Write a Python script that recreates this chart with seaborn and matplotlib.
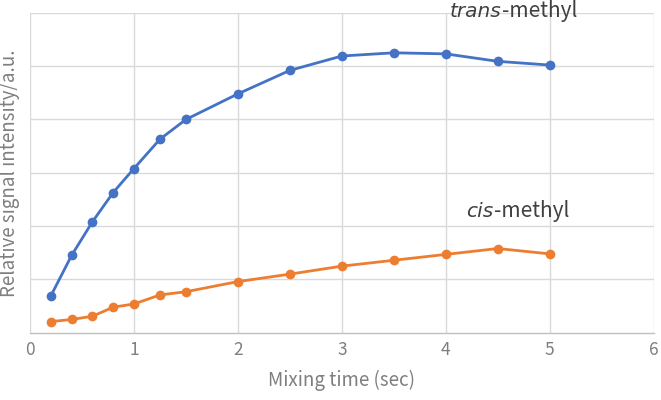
import pandas as pd
import seaborn as sns
import matplotlib.pyplot as plt

# Data (y in arbitrary units, grid step = 1)
mixing_time = [0.2, 0.4, 0.6, 0.8, 1.0, 1.25, 1.5, 2.0, 2.5, 3.0, 3.5, 4.0, 4.5, 5.0]
trans_methyl = [0.69, 1.45, 2.08, 2.63, 3.08, 3.63, 4.00, 4.48, 4.92, 5.19, 5.25, 5.23, 5.09, 5.02]
cis_methyl = [0.21, 0.25, 0.31, 0.48, 0.54, 0.71, 0.77, 0.96, 1.10, 1.25, 1.36, 1.47, 1.58, 1.48]
x_ticks = [0, 1, 2, 3, 4, 5, 6]

df = pd.DataFrame({
    'time': mixing_time * 2,
    'signal': trans_methyl + cis_methyl,
    'series': ['trans'] * len(mixing_time) + ['cis'] * len(mixing_time),
})

sns.set_theme(style="whitegrid")
plt.rcParams['font.family'] = ['Noto Sans CJK JP', 'DejaVu Sans']

grey = '#7F7F7F'
fig = plt.figure(figsize=(6.61, 4.0), dpi=100)
ax = fig.add_axes([0.0454, 0.168, 0.9435, 0.8])

sns.lineplot(data=df, x='time', y='signal', hue='series',
             palette={'trans': '#4472C4', 'cis': '#ED7D31'},
             marker='o', markersize=7, markeredgewidth=0, linewidth=2,
             legend=False, ax=ax)

ax.set_xlim(0, 6)
ax.set_ylim(0, 6)
ax.set_xticks(x_ticks)
ax.set_yticks([1, 2, 3, 4, 5, 6])
ax.set_yticklabels([])
ax.tick_params(axis='x', colors=grey, labelsize=12.5, length=0, pad=6)
ax.tick_params(axis='y', length=0)
ax.grid(True, color='#D9D9D9', linewidth=1)
for side in ['top', 'right', 'left']:
    ax.spines[side].set_visible(False)
ax.spines['bottom'].set_color('#BFBFBF')
ax.spines['bottom'].set_linewidth(1)

ax.set_xlabel('Mixing time (sec)', color=grey, fontsize=13.5, labelpad=8)
ax.set_ylabel('Relative signal intensity/a.u.', color=grey, fontsize=13.5, labelpad=4)

# Series labels: italic prefix followed by upright "-methyl" on the same baseline
for prefix, x, y in [('trans', 4.04, 5.92), ('cis', 4.2, 2.18)]:
    t = ax.text(x, y, prefix, fontsize=14.5, style='italic', color='#404040',
                family=['DejaVu Sans'], va='baseline', clip_on=False)
    ax.annotate('-methyl', xy=(1, y), xycoords=(t, 'data'), fontsize=15,
                color='#404040', va='baseline', ha='left', annotation_clip=False)

fig.savefig('out.png', dpi=100)
